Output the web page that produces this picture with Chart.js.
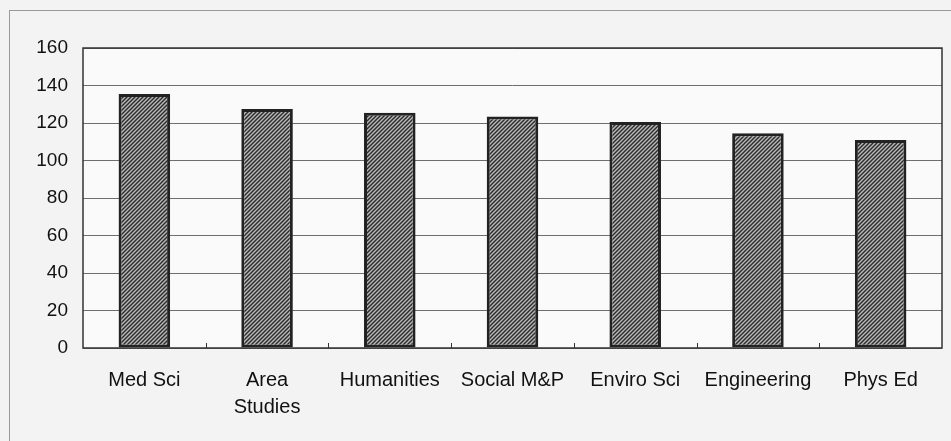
<!DOCTYPE html>
<html>
<head>
<meta charset="utf-8">
<script src="https://cdn.jsdelivr.net/npm/chart.js@4.4.1/dist/chart.umd.min.js"></script>
<style>
  html, body { margin: 0; padding: 0; background: #f3f3f3; }
  #wrap { width: 951px; height: 441px; position: relative; }
</style>
</head>
<body>
<div id="wrap"><canvas id="chart"></canvas></div>
<script>
'use strict';

// ── Data ─────────────────────────────────────────────────────────────
const categories = ['Med Sci', ['Area', 'Studies'], 'Humanities', 'Social M&P', 'Enviro Sci', 'Engineering', 'Phys Ed'];
const values     = [135.5, 127.5, 125.5, 123.5, 120.5, 114.5, 111];
const yTicks     = [0, 20, 40, 60, 80, 100, 120, 140, 160];

Chart.defaults.font.family = '"Liberation Sans", Arial, sans-serif';
Chart.defaults.color = '#111';

// ── Hatch fill ───────────────────────────────────────────────────────
function makeHatch() {
  const c = document.createElement('canvas');
  c.width = 4; c.height = 4;
  const g = c.getContext('2d');
  g.fillStyle = '#b8b8b8';
  g.fillRect(0, 0, 4, 4);
  g.strokeStyle = '#2a2a2a';
  g.lineWidth = 1.4;
  g.beginPath();
  g.moveTo(-1, 5); g.lineTo(5, -1);
  g.moveTo(-1, 1); g.lineTo(1, -1);
  g.moveTo(3, 5); g.lineTo(5, 3);
  g.stroke();
  return g.createPattern(c, 'repeat');
}

// ── Frame + inside ticks ─────────────────────────────────────────────
const framePlugin = {
  id: 'frame',
  beforeDraw(chart) {
    const { ctx, chartArea: a } = chart;
    ctx.save();
    ctx.strokeStyle = '#9a9a9a';
    ctx.lineWidth = 1;
    ctx.strokeRect(9.5, 10.5, 980, 480);
    ctx.fillStyle = '#fafafa';
    ctx.fillRect(a.left, a.top, a.right - a.left, a.bottom - a.top);
    ctx.restore();
  },
  afterDatasetsDraw(chart) {
    const { ctx, chartArea: a, scales: { x } } = chart;
    ctx.save();
    ctx.strokeStyle = '#333';
    ctx.lineWidth = 1.5;
    ctx.strokeRect(a.left, a.top, a.right - a.left, a.bottom - a.top);
    ctx.lineWidth = 1;
    const step = (a.right - a.left) / categories.length;
    for (let i = 1; i < categories.length; i++) {
      const px = Math.round(x.getPixelForValue(i) - step / 2) + 0.5;
      ctx.beginPath();
      ctx.moveTo(px, a.bottom);
      ctx.lineTo(px, a.bottom - 5);
      ctx.stroke();
    }
    ctx.restore();
  },
};

new Chart(document.getElementById('chart'), {
  type: 'bar',
  data: {
    labels: categories,
    datasets: [{
      data: values,
      backgroundColor: makeHatch(),
      borderColor: '#222',
      borderWidth: 3,
      borderSkipped: false,
      barPercentage: 0.6,
      categoryPercentage: 0.7,
    }],
  },
  options: {
    responsive: true,
    maintainAspectRatio: false,
    animation: false,
    layout: { padding: { left: 0, top: 48, right: 9, bottom: 0 } },
    plugins: { legend: { display: false }, tooltip: { enabled: false } },
    scales: {
      x: {
        grid: { display: false },
        border: { display: false },
        ticks: { font: { size: 20, lineHeight: 1.35 }, padding: 11, maxRotation: 0, autoSkip: false },
        afterFit: s => { s.height = 93; },
      },
      y: {
        min: 0,
        max: 160,
        afterBuildTicks: s => { s.ticks = yTicks.map(v => ({ value: v })); },
        grid: { color: '#6e6e6e', lineWidth: 1, drawTicks: false },
        border: { display: false },
        ticks: { font: { size: 19 }, padding: 15 },
        afterFit: s => { s.width = 83; },
      },
    },
  },
  plugins: [framePlugin],
});
</script>
</body>
</html>
